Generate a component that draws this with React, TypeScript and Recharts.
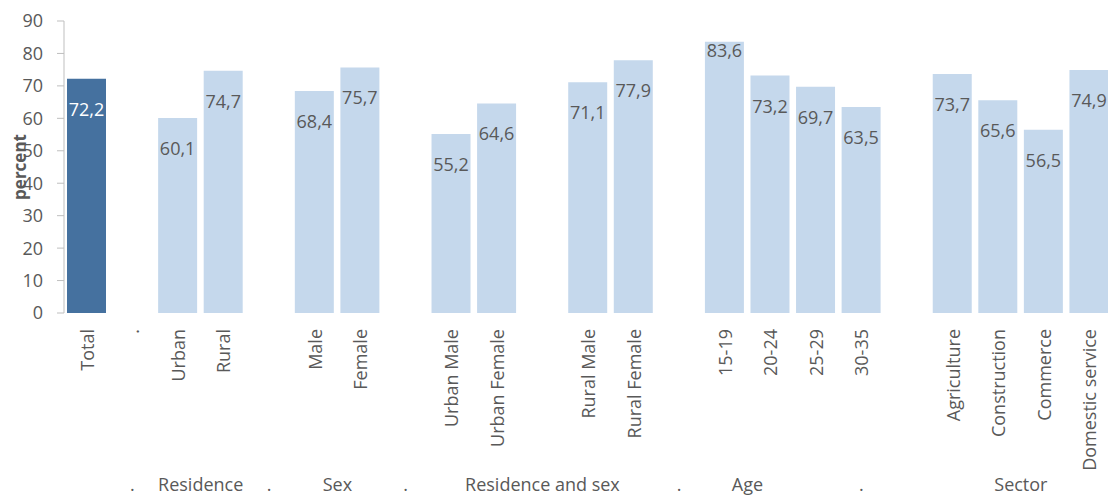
import React from 'react';
import { BarChart, Bar, XAxis, YAxis, Cell, LabelList } from 'recharts';

const categories = ['Total', '.', 'Urban', 'Rural', '', 'Male', 'Female', '', 'Urban Male', 'Urban Female', '', 'Rural Male', 'Rural Female', '', '15-19', '20-24', '25-29', '30-35', '', 'Agriculture', 'Construction', 'Commerce', 'Domestic service'];
const values: (number | null)[] = [72.2, null, 60.1, 74.7, null, 68.4, 75.7, null, 55.2, 64.6, null, 71.1, 77.9, null, 83.6, 73.2, 69.7, 63.5, null, 73.7, 65.6, 56.5, 74.9];
const groupLabels = ['.', 'Residence', '.', 'Sex', '.', 'Residence and sex', '.', 'Age', '.', 'Sector'];
const groupStart = [1, 2, 4, 5, 7, 8, 13, 14, 16, 19];
const groupEnd = [1, 3, 4, 6, 7, 12, 13, 15, 18, 22];
const yTicks = [0, 10, 20, 30, 40, 50, 60, 70, 80, 90];

const TEXT = '#595959';
const DARK = '#45719F';
const LIGHT = '#C5D8EC';
const FONT = '"Open Sans", sans-serif';

const data = categories.map((name, i) => ({ name, idx: i, value: values[i] }));
const groupCenters = groupStart.map((s, i) => (s + groupEnd[i]) / 2);

const CatTick = (props: any) => {
  const { x, y, payload } = props;
  const ty = y + 8;
  return (
    <text x={x} y={ty} transform={`rotate(-90, ${x}, ${ty})`} textAnchor="end" dominantBaseline="central" fill={TEXT} fontSize={18} fontFamily={FONT}>
      {payload.value}
    </text>
  );
};

const GroupTick = (props: any) => {
  const { x, payload } = props;
  const i = groupCenters.indexOf(payload.value);
  return (
    <text x={x} y={491} textAnchor="middle" fill={TEXT} fontSize={18} fontFamily={FONT}>
      {i >= 0 ? groupLabels[i] : ''}
    </text>
  );
};

const ValueLabel = (props: any) => {
  const { x, y, width, value, index } = props;
  if (value == null) return null;
  const off = value > 80 ? 8 : 30;
  return (
    <text x={x + width / 2} y={y + off} textAnchor="middle" dominantBaseline="central" fill={index === 0 ? '#FFFFFF' : TEXT} fontSize={18} fontFamily={FONT}>
      {Number(value).toFixed(1).replace('.', ',')}
    </text>
  );
};

const YLabel = (props: any) => {
  const { viewBox } = props;
  const cx = viewBox.x + 19;
  const cy = viewBox.y + viewBox.height / 2;
  return (
    <text x={cx} y={cy} transform={`rotate(-90, ${cx}, ${cy})`} textAnchor="middle" dominantBaseline="central" fill={TEXT} fontSize={17} fontWeight="bold" fontFamily={FONT}>
      percent
    </text>
  );
};

export default function App() {
  return (
    <div style={{ position: 'absolute', left: 0, top: 0, width: 1108, height: 497, overflow: 'hidden', background: '#fff' }}>
      <BarChart width={1112} height={497} data={data} margin={{ top: 21, right: 0, bottom: 0, left: 0 }} style={{ fontFamily: FONT }}>
        <XAxis dataKey="name" height={150} interval={0} axisLine={false} tickLine={false} tick={<CatTick />} />
        <XAxis xAxisId="grp" dataKey="idx" type="number" domain={[-0.5, 22.5]} allowDataOverflow ticks={groupCenters} interval={0} height={34} axisLine={false} tickLine={false} tickSize={0} tickMargin={0} tick={<GroupTick />} />
        <YAxis width={64} domain={[0, 90]} ticks={yTicks} interval={0} tickSize={7} tickMargin={14} axisLine={{ stroke: '#BFBFBF' }} tickLine={{ stroke: '#BFBFBF' }} tick={{ fill: TEXT, fontSize: 18, fontFamily: FONT }} label={<YLabel />} />
        <Bar dataKey="value" barSize={39} isAnimationActive={false}>
          {data.map((d, i) => (
            <Cell key={i} fill={i === 0 ? DARK : LIGHT} />
          ))}
          <LabelList dataKey="value" content={<ValueLabel />} />
        </Bar>
      </BarChart>
    </div>
  );
}
